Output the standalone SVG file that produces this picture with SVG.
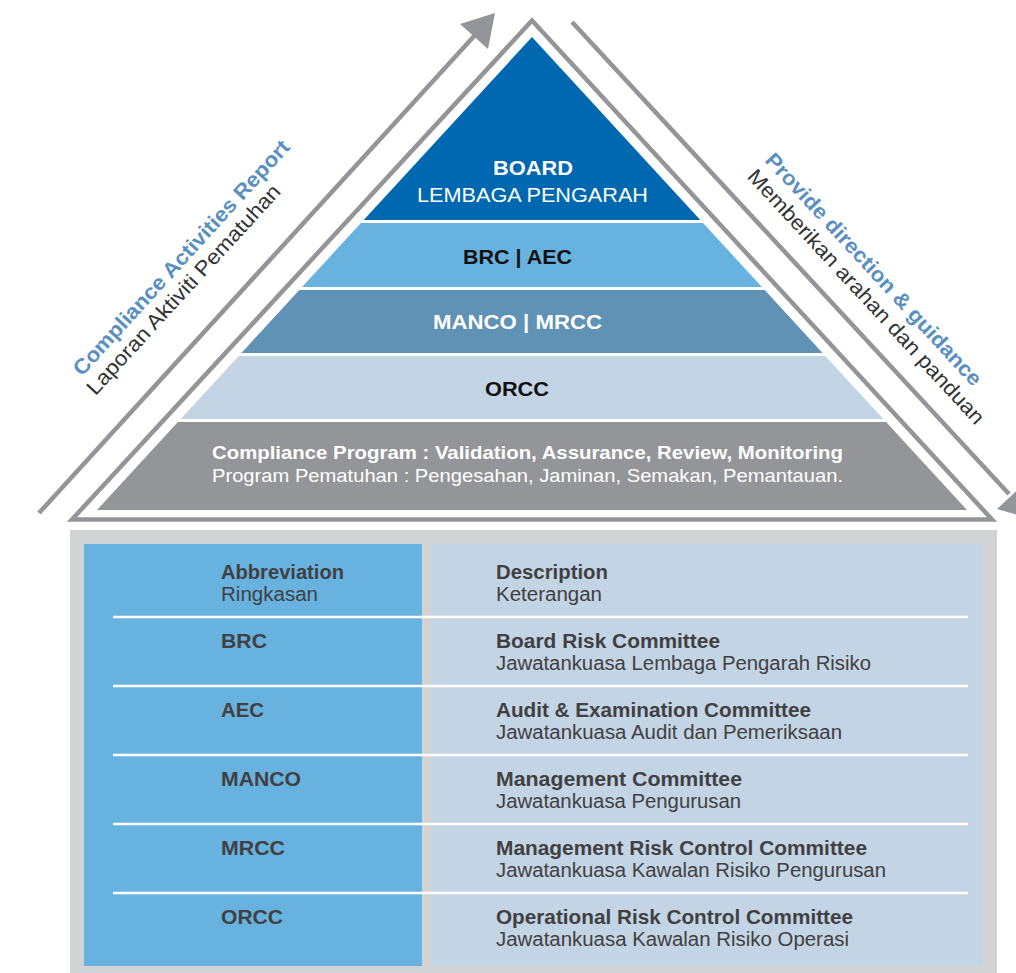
<svg xmlns="http://www.w3.org/2000/svg" width="1016" height="973" viewBox="0 0 1016 973">
<style>
text{font-family:"Liberation Sans",Arial,sans-serif}
.b{font-weight:bold}
.w{fill:#ffffff}
.k{fill:#111111}
.t{fill:#414042;font-size:20px}
.blue{fill:#5a8fc1}
.dk{fill:#333333}
.sep{stroke:#ffffff;stroke-width:2.5}
.gl{stroke:#939598;stroke-width:4.5;fill:none}
</style>
<rect width="1016" height="973" fill="#ffffff"/>
<g id="connectors">
<line class="gl" x1="39" y1="513" x2="476" y2="34"/>
<polygon points="495,13 460,24 488,49" fill="#939598"/>
<line class="gl" x1="572" y1="22" x2="1009" y2="494"/>
<polygon points="1032,519 997,509 1025,483" fill="#939598"/>
</g>
<g id="outline">
<polygon points="532,20.5 72,519.5 992,519.5" fill="none" stroke="#939598" stroke-width="4.5"/>
</g>
<g id="board">
<polygon points="532,37 700.3,220 363.7,220" fill="#0068b0"/>
<text class="b w" x="533" y="175" font-size="20" text-anchor="middle" textLength="80" lengthAdjust="spacingAndGlyphs">BOARD</text>
<text class="w" x="532.5" y="202" font-size="21" text-anchor="middle" textLength="231" lengthAdjust="spacingAndGlyphs">LEMBAGA PENGARAH</text>
</g>
<g id="brc-aec">
<polygon points="360.9,223 703.1,223 761.9,287 302.1,287" fill="#68b2e0"/>
<text class="b k" x="517.5" y="264" font-size="20" text-anchor="middle" textLength="109" lengthAdjust="spacingAndGlyphs">BRC | AEC</text>
</g>
<g id="manco-mrcc">
<polygon points="299.3,290 764.7,290 822.6,353 241.4,353" fill="#5f92b5"/>
<text class="b w" x="517.5" y="329" font-size="20" text-anchor="middle" textLength="169" lengthAdjust="spacingAndGlyphs">MANCO | MRCC</text>
</g>
<g id="orcc">
<polygon points="238.6,356 825.4,356 883.3,419 180.7,419" fill="#c3d4e5"/>
<text class="b k" x="517" y="396" font-size="20" text-anchor="middle" textLength="64" lengthAdjust="spacingAndGlyphs">ORCC</text>
</g>
<g id="compliance">
<polygon points="177.9,422 886.1,422 967,510 97,510" fill="#939598"/>
<text class="b w" x="527.5" y="459" font-size="19" text-anchor="middle" textLength="631" lengthAdjust="spacingAndGlyphs">Compliance Program : Validation, Assurance, Review, Monitoring</text>
<text class="w" x="527.5" y="482" font-size="19" text-anchor="middle" textLength="631" lengthAdjust="spacingAndGlyphs">Program Pematuhan : Pengesahan, Jaminan, Semakan, Pemantauan.</text>
</g>
<g id="label-left" transform="translate(82,377) rotate(-47.6)">
<text class="b blue" x="0" y="0" font-size="21" textLength="310" lengthAdjust="spacingAndGlyphs">Compliance Activities Report</text>
<text class="dk" x="-5" y="23" font-size="21" textLength="276" lengthAdjust="spacingAndGlyphs">Laporan Aktiviti Pematuhan</text>
</g>
<g id="label-right" transform="translate(764,161) rotate(47.3)">
<text class="b blue" x="0" y="0" font-size="21" textLength="308" lengthAdjust="spacingAndGlyphs">Provide direction &amp; guidance</text>
<text class="dk" x="0" y="24" font-size="21" textLength="338" lengthAdjust="spacingAndGlyphs">Memberikan arahan dan panduan</text>
</g>
<g id="table">
<rect x="70" y="530" width="927" height="443" fill="#d1d3d4"/>
<rect x="84" y="544" width="338" height="422" fill="#68b2e0"/>
<rect x="432" y="544" width="550" height="422" fill="#c3d4e5"/>
<line class="sep" x1="113" y1="617" x2="968" y2="617"/>
<line class="sep" x1="113" y1="686" x2="968" y2="686"/>
<line class="sep" x1="113" y1="755" x2="968" y2="755"/>
<line class="sep" x1="113" y1="824" x2="968" y2="824"/>
<line class="sep" x1="113" y1="893" x2="968" y2="893"/>
</g>
<g id="row-header">
<text class="t b" x="221" y="579" textLength="123" lengthAdjust="spacingAndGlyphs">Abbreviation</text>
<text class="t" x="221" y="601" textLength="97" lengthAdjust="spacingAndGlyphs">Ringkasan</text>
<text class="t b" x="496" y="579" textLength="112" lengthAdjust="spacingAndGlyphs">Description</text>
<text class="t" x="496" y="601" textLength="106" lengthAdjust="spacingAndGlyphs">Keterangan</text>
</g>
<g id="row-brc">
<text class="t b" x="221" y="648" textLength="46" lengthAdjust="spacingAndGlyphs">BRC</text>
<text class="t b" x="496" y="648" textLength="224" lengthAdjust="spacingAndGlyphs">Board Risk Committee</text>
<text class="t" x="496" y="670" textLength="375" lengthAdjust="spacingAndGlyphs">Jawatankuasa Lembaga Pengarah Risiko</text>
</g>
<g id="row-aec">
<text class="t b" x="221" y="717" textLength="43" lengthAdjust="spacingAndGlyphs">AEC</text>
<text class="t b" x="496" y="717" textLength="315" lengthAdjust="spacingAndGlyphs">Audit &amp; Examination Committee</text>
<text class="t" x="496" y="739" textLength="346" lengthAdjust="spacingAndGlyphs">Jawatankuasa Audit dan Pemeriksaan</text>
</g>
<g id="row-manco">
<text class="t b" x="221" y="786" textLength="80" lengthAdjust="spacingAndGlyphs">MANCO</text>
<text class="t b" x="496" y="786" textLength="246" lengthAdjust="spacingAndGlyphs">Management Committee</text>
<text class="t" x="496" y="808" textLength="245" lengthAdjust="spacingAndGlyphs">Jawatankuasa Pengurusan</text>
</g>
<g id="row-mrcc">
<text class="t b" x="221" y="855" textLength="64" lengthAdjust="spacingAndGlyphs">MRCC</text>
<text class="t b" x="496" y="855" textLength="371" lengthAdjust="spacingAndGlyphs">Management Risk Control Committee</text>
<text class="t" x="496" y="877" textLength="390" lengthAdjust="spacingAndGlyphs">Jawatankuasa Kawalan Risiko Pengurusan</text>
</g>
<g id="row-orcc">
<text class="t b" x="221" y="924" textLength="62" lengthAdjust="spacingAndGlyphs">ORCC</text>
<text class="t b" x="496" y="924" textLength="357" lengthAdjust="spacingAndGlyphs">Operational Risk Control Committee</text>
<text class="t" x="496" y="946" textLength="353" lengthAdjust="spacingAndGlyphs">Jawatankuasa Kawalan Risiko Operasi</text>
</g>
</svg>
